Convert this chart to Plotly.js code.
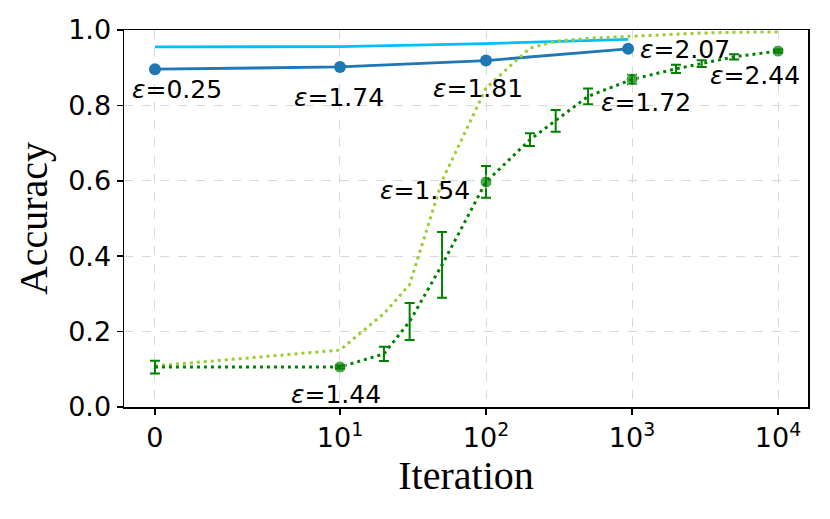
<!DOCTYPE html>
<html>
<head>
<meta charset="utf-8">
<script src="https://cdn.plot.ly/plotly-3.0.1.min.js"></script>
<style>html,body{margin:0;padding:0;background:#fff;}#chart{width:830px;height:519px;}</style>
</head>
<body>
<div id="chart"></div>
<script>
// ---- data ----
const iterGreen = [0, 10, 20, 30, 50, 100, 200, 300, 500, 1000, 2000, 3000, 5000, 10000];
const accGreen  = [0.106, 0.106, 0.141, 0.227, 0.377, 0.597, 0.709, 0.759, 0.824, 0.869, 0.897, 0.911, 0.929, 0.944];
const errGreen  = [0.017, 0.004, 0.019, 0.049, 0.087, 0.042, 0.017, 0.029, 0.021, 0.012, 0.011, 0.009, 0.007, 0.004];
const dotGreen  = [false, true, false, false, false, true, false, false, false, true, false, false, false, true];

const iterLight = [0, 10, 20, 30, 50, 100, 200, 300, 500, 1000, 2000, 3000, 5000, 10000];
const accLight  = [0.109, 0.151, 0.248, 0.325, 0.600, 0.846, 0.952, 0.970, 0.978, 0.984, 0.990, 0.992, 0.994, 0.995];

const iterBlue = [0, 10, 100, 940];
const accBlue  = [0.896, 0.902, 0.919, 0.950];

const iterCyan = [0, 10, 100, 940];
const accCyan  = [0.955, 0.956, 0.964, 0.975];

const tickIters  = [0, 10, 100, 1000, 10000];
const tickLabels = ["0", "10<sup>1</sup>", "10<sup>2</sup>", "10<sup>3</sup>", "10<sup>4</sup>"];

// epsilon labels: [iteration, accuracy anchor, text]
const labelIters = [0, 10, 100, 940, 10, 100, 1000, 10000];
const labelAcc   = [0.843, 0.822, 0.845, 0.948, 0.033, 0.574, 0.809, 0.878];
const labelText  = ["0.25", "1.74", "1.81", "2.07", "1.44", "1.54", "1.72", "2.44"];
const labelDx    = [-25, -48, -55, 10, -51, -108, -33, -70];

// ---- symmetric-log style x mapping (linear 0..10, log above) ----
const LIN = 1.267;
function sx(v) { return v <= 10 ? v / 10 * LIN : LIN + Math.log10(v / 10); }

const dotStyle = "3px,4px";

const traces = [
  {
    x: iterCyan.map(sx), y: accCyan, mode: "lines",
    line: {color: "#00bfff", width: 2.8}, hoverinfo: "skip", showlegend: false
  },
  {
    x: iterBlue.map(sx), y: accBlue, mode: "lines+markers",
    line: {color: "#1f77b4", width: 2.8},
    marker: {color: "#1f77b4", size: 12}, showlegend: false
  },
  {
    x: iterLight.map(sx), y: accLight, mode: "lines",
    line: {color: "#9acd32", width: 3, dash: dotStyle}, showlegend: false
  },
  {
    x: iterGreen.map(sx), y: accGreen, mode: "lines+markers",
    line: {color: "#008000", width: 3, dash: dotStyle},
    marker: {color: "#008000", size: dotGreen.map(d => d ? 12 : 0)},
    error_y: {type: "data", array: errGreen, visible: true, color: "#008000", thickness: 2, width: 5},
    showlegend: false
  }
];

const annotations = labelIters.map((it, i) => ({
  x: sx(it), y: labelAcc[i], xref: "x", yref: "y",
  text: "<i>ε</i>=" + labelText[i], showarrow: false,
  xanchor: "left", yanchor: "middle", xshift: labelDx[i],
  font: {family: "DejaVu Sans", size: 25, color: "#000"}
}));

const layout = {
  width: 830, height: 519,
  margin: {l: 124, r: 22, t: 30, b: 112},
  paper_bgcolor: "#fff", plot_bgcolor: "#fff",
  font: {family: "DejaVu Sans", color: "#000"},
  xaxis: {
    range: [-0.212, 4.472],
    tickvals: tickIters.map(sx), ticktext: tickLabels,
    ticks: "outside", ticklen: 6, tickwidth: 1.5, tickcolor: "#000",
    showline: true, linecolor: "#000", linewidth: 1.5, mirror: true,
    showgrid: true, gridcolor: "#d9d9d9", griddash: "dash", gridwidth: 1,
    zeroline: false,
    tickfont: {family: "DejaVu Sans", size: 27, color: "#000"},
    title: {text: "Iteration", font: {family: "Liberation Serif", size: 40, color: "#000"}, standoff: 5}
  },
  yaxis: {
    range: [0, 1], dtick: 0.2, tick0: 0, tickformat: ".1f",
    ticks: "outside", ticklen: 6, tickwidth: 1.5, tickcolor: "#000",
    showline: true, linecolor: "#000", linewidth: 1.5, mirror: true,
    showgrid: true, gridcolor: "#d9d9d9", griddash: "dash", gridwidth: 1,
    zeroline: false,
    tickfont: {family: "DejaVu Sans", size: 27, color: "#000"},
    title: {text: "Accuracy", font: {family: "Liberation Serif", size: 40, color: "#000"}, standoff: 8}
  },
  annotations: annotations
};

Plotly.newPlot("chart", traces, layout, {staticPlot: true, displayModeBar: false});
</script>
</body>
</html>
